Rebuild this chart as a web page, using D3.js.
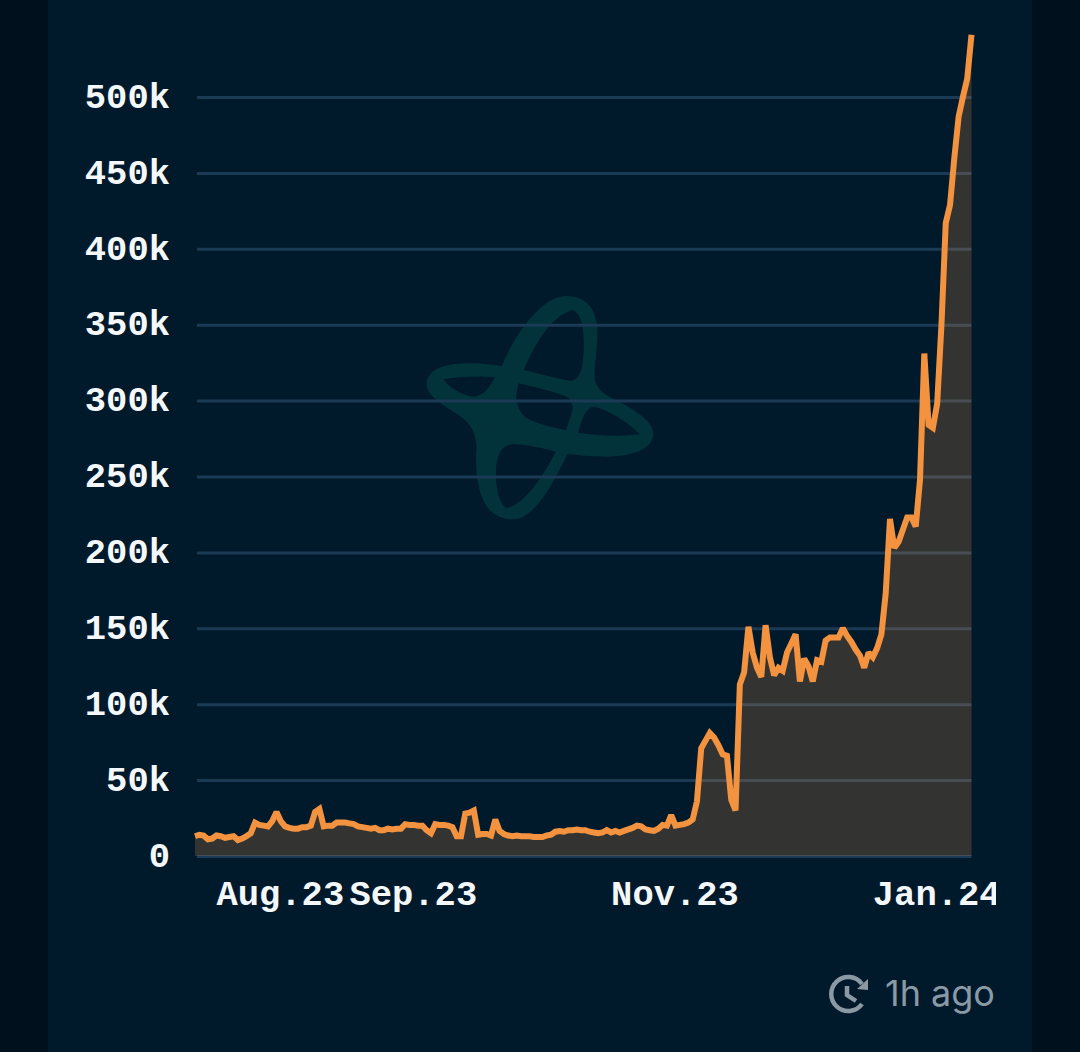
<!DOCTYPE html>
<html><head><meta charset="utf-8">
<script src="https://cdn.jsdelivr.net/npm/d3@7"></script>
<style>html,body{margin:0;padding:0;background:#00101c;overflow:hidden}svg{display:block}</style>
</head><body><svg id="c" width="1080" height="1052"></svg>
<script>
const startDay = "2023-07-12";
const tickDays = ["2023-08-01","2023-09-01","2023-11-01","2024-01-01"];
const tickLabels = ["Aug.23","Sep.23","Nov.23","Jan.24"];
const yTicks = [0,50000,100000,150000,200000,250000,300000,350000,400000,450000,500000];
const valuesK = [13,14,13.5,11,11.5,13.5,13,12,12.5,13,10.5,11.5,13,15,22,20.5,20,19.5,23,29,23,19.5,18.5,18,18,19,19,20,29,31,
19.5,20,20,22,22,22,21.5,21,19.5,19,18.5,18,18.5,17,17,18,17.5,18,18,21,20.5,20.5,20,20,17,15,21,20.5,20.5,20,
19,13,13,28,28.5,30,14,14.5,14.5,13.5,24,16.5,14.5,13.5,13,13.5,13,13,13,12.5,12.5,12.5,13.5,14,16,16.5,16,17,17,17.5,
17,17,16,15.5,15,15.5,17,15.5,16.5,15.5,16.5,17.5,18.5,20,19.5,17.5,17,16.5,18,20.5,20,27,20,20.5,21,22,24,36,71,76,
81,78,73,67,66,37,30,113,121,151,134,124,118,152,131,119,124,122,134,140,146,115,130,125,115,129,128,142,144,144,
144,150,145,141,136,132,124,134,131,137,146,173,222,203,207,215,223,223,217,248,331,284,282,298,350,417,429,460,487,500,512,541];

const parse = d3.utcParse("%Y-%m-%d");
const start = parse(startDay);
const series = valuesK.map((v,i)=>({date:d3.utcDay.offset(start,i),value:v*1000}));
const svg = d3.select("#c");
const x = d3.scaleUtc().domain([start,series[series.length-1].date]).range([195,971.5]);
const y = d3.scaleLinear().domain([0,500000]).range([856,97]);

// page panels
svg.append("rect").attr("width",1080).attr("height",1052).attr("fill","#00101c");
svg.append("rect").attr("x",48).attr("width",984).attr("height",1052).attr("fill","#00192b");

// watermark
svg.append("path").attr("transform","translate(410,280) scale(0.3333)").attr("fill","#03333a").attr("fill-rule","evenodd")
 .attr("d","M470 48C530 48 560 90 562 150C565 200 550 260 555 300C565 340 600 350 640 372C690 400 730 430 730 460C730 510 660 530 590 530C540 530 500 525 472 522C440 590 390 690 330 715C290 725 240 710 220 660C200 620 195 550 200 500C195 440 170 420 130 395C90 370 50 345 50 310C55 260 120 250 180 250C220 250 250 255 275 258C300 200 340 130 380 95C410 65 440 48 470 48Z"+
 "M487 90C520 100 525 170 520 230C515 280 505 302 480 302C440 295 380 280 342 270C370 200 420 110 487 90Z"+
 "M100 298C150 288 210 288 255 292C240 320 220 350 190 350C150 345 115 320 100 298Z"+
 "M325 310C370 320 430 335 470 350C490 365 490 385 485 400L468 450C430 445 380 430 350 415C325 395 315 360 320 340Z"+
 "M550 380C590 385 660 430 690 463C640 470 560 468 505 458C515 420 525 385 550 380Z"+
 "M310 493C350 493 400 505 437 515C410 570 350 670 290 685C265 670 258 620 258 580C258 530 270 495 310 493Z");

const mono = "'Liberation Mono','DejaVu Sans Mono',monospace";
// y axis with gridlines
const yAxis = svg.append("g").attr("transform","translate(197,0)")
  .call(d3.axisLeft(y).tickValues(yTicks).tickSize(-774.5).tickPadding(27)
    .tickFormat(d=>d===0?"0":(d/1000)+"k"));
yAxis.select(".domain").remove();
yAxis.selectAll("line").attr("stroke","#1b3a56").attr("stroke-width",3);
yAxis.selectAll("text").attr("fill","#f4f8fb").attr("font-family",mono).attr("font-weight",700).attr("font-size",35.5).attr("dy","0.29em");

// area and line
svg.append("path").datum(series).attr("fill","#d08a4c").attr("fill-opacity",0.245)
  .attr("d",d3.area().x(d=>x(d.date)).y0(y(0)).y1(d=>y(d.value)));
svg.append("path").datum(series).attr("fill","none").attr("stroke","#f4933f").attr("stroke-width",6)
  .attr("stroke-linejoin","miter").attr("stroke-miterlimit",2)
  .attr("d",d3.line().x(d=>x(d.date)).y(d=>y(d.value)));

// x axis, right edge of the last label clipped (clip box is in the axis group's own coordinates)
svg.append("clipPath").attr("id","xclip").append("rect").attr("x",150).attr("y",4).attr("width",846).attr("height",60);
const xAxis = svg.append("g").attr("transform","translate(0,856)").attr("clip-path","url(#xclip)")
  .call(d3.axisBottom(x).tickValues(tickDays.map(parse)).tickSize(0).tickPadding(24)
    .tickFormat((d,i)=>tickLabels[i]));
xAxis.select(".domain").remove();
xAxis.selectAll("text").attr("fill","#f4f8fb").attr("font-family",mono).attr("font-weight",700).attr("font-size",35.5).attr("dx",-1);

// updated stamp
const stamp = svg.append("g").attr("fill","none").attr("stroke","#8b99a5").attr("stroke-width",4.5);
stamp.append("path").attr("d","M862 984A17 17 0 1 0 862 1004");
stamp.append("path").attr("d","M847 986V995L856 1001");
svg.append("path").attr("d","M868 979L868 990L857 989Z").attr("fill","#8b99a5");
svg.append("text").attr("x",885).attr("y",1006).attr("fill","#8b99a5")
  .attr("font-family","Inter,'Noto Sans',sans-serif").attr("font-size",36).text("1h ago");
</script></body></html>
